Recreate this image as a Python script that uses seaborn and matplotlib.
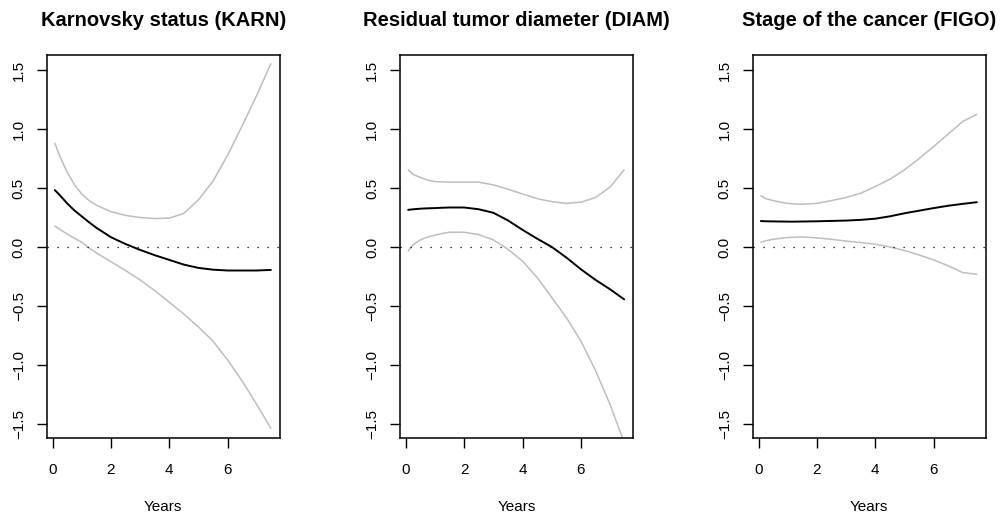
import numpy as np
import pandas as pd
import seaborn as sns
import matplotlib.pyplot as plt

# time grid (years) and the smoothed effect curves with their bands
years = [0.08, 0.25, 0.5, 0.75, 1, 1.25, 1.5, 2, 2.5, 3, 3.5, 4, 4.5, 5, 5.5, 6, 6.5, 7, 7.48]

karn_est = [0.483, 0.44, 0.37, 0.31, 0.26, 0.21, 0.163, 0.083, 0.025, -0.025, -0.07, -0.11, -0.15, -0.178, -0.193, -0.2, -0.2, -0.2, -0.195]
karn_upper = [0.88, 0.77, 0.635, 0.53, 0.45, 0.395, 0.355, 0.30, 0.268, 0.25, 0.241, 0.245, 0.285, 0.40, 0.56, 0.78, 1.03, 1.29, 1.556]
karn_lower = [0.177, 0.15, 0.11, 0.075, 0.04, -0.008, -0.05, -0.125, -0.2, -0.28, -0.37, -0.47, -0.57, -0.68, -0.8, -0.96, -1.14, -1.34, -1.54]

diam_est = [0.315, 0.32, 0.325, 0.328, 0.33, 0.333, 0.335, 0.335, 0.32, 0.29, 0.225, 0.145, 0.07, 0.0, -0.09, -0.19, -0.28, -0.36, -0.445]
diam_upper = [0.655, 0.615, 0.59, 0.567, 0.555, 0.553, 0.55, 0.55, 0.55, 0.527, 0.49, 0.45, 0.41, 0.385, 0.37, 0.38, 0.42, 0.51, 0.655]
diam_lower = [-0.034, 0.02, 0.06, 0.085, 0.10, 0.115, 0.125, 0.125, 0.105, 0.06, -0.02, -0.12, -0.26, -0.43, -0.6, -0.8, -1.05, -1.34, -1.66]

figo_est = [0.22, 0.218, 0.217, 0.216, 0.215, 0.215, 0.216, 0.218, 0.221, 0.224, 0.23, 0.24, 0.26, 0.286, 0.308, 0.33, 0.35, 0.366, 0.38]
figo_upper = [0.434, 0.41, 0.394, 0.38, 0.37, 0.365, 0.363, 0.37, 0.394, 0.42, 0.456, 0.513, 0.575, 0.655, 0.75, 0.853, 0.96, 1.066, 1.126]
figo_lower = [0.04, 0.053, 0.065, 0.073, 0.08, 0.083, 0.085, 0.077, 0.065, 0.05, 0.037, 0.023, 0.0, -0.03, -0.068, -0.11, -0.16, -0.218, -0.232]

titles = ["Karnovsky status (KARN)", "Residual tumor diameter (DIAM)", "Stage of the cancer (FIGO)"]
x_ticks = [0, 2, 4, 6]
y_ticks = [-1.5, -1.0, -0.5, 0.0, 0.5, 1.0, 1.5]

sns.set_style("ticks")
plt.rcParams['font.family'] = ['Liberation Sans', 'DejaVu Sans']
plt.rcParams['text.color'] = 'black'
plt.rcParams['axes.labelcolor'] = 'black'
plt.rcParams['xtick.color'] = 'black'
plt.rcParams['ytick.color'] = 'black'

panels = [
    (karn_est, karn_upper, karn_lower),
    (diam_est, diam_upper, diam_lower),
    (figo_est, figo_upper, figo_lower),
]
lefts = [0.0465, 0.3984, 0.7497]

fig = plt.figure(figsize=(10.04, 5.18), dpi=100)

for left, title, (est, upper, lower) in zip(lefts, titles, panels):
    ax = fig.add_axes([left, 0.155, 0.2320, 0.7388])
    df = pd.DataFrame({"Years": years, "est": est, "upper": upper, "lower": lower})
    # confidence band first, then the estimate on top
    sns.lineplot(data=df, x="Years", y="upper", color="#BEBEBE", lw=1.1, ax=ax)
    sns.lineplot(data=df, x="Years", y="lower", color="#BEBEBE", lw=1.1, ax=ax)
    sns.lineplot(data=df, x="Years", y="est", color="black", lw=1.4, ax=ax)
    ax.axhline(0, color="black", lw=0.9, linestyle=(0, (1, 7)))

    ax.set_xlim(-0.2, 7.78)
    ax.set_ylim(-1.62, 1.63)
    ax.set_xticks(x_ticks)
    ax.set_xticklabels([str(t) for t in x_ticks])
    ax.set_yticks(y_ticks)
    ax.set_yticklabels([f"{t:.1f}".replace("-", "\u2212") for t in y_ticks],
                       rotation=90, va="center")
    ax.tick_params(axis="both", direction="out", length=7, width=1, labelsize=11, color="black")
    ax.tick_params(axis="x", pad=11)
    ax.tick_params(axis="y", pad=8)
    for s in ax.spines.values():
        s.set_linewidth(1.1)
        s.set_color("black")
    ax.set_xlabel("Years", fontsize=11, labelpad=17)
    ax.set_ylabel("")
    ax.set_title(title, fontsize=14.5, fontweight="bold", pad=21)

fig.savefig("out.png", dpi=100)
